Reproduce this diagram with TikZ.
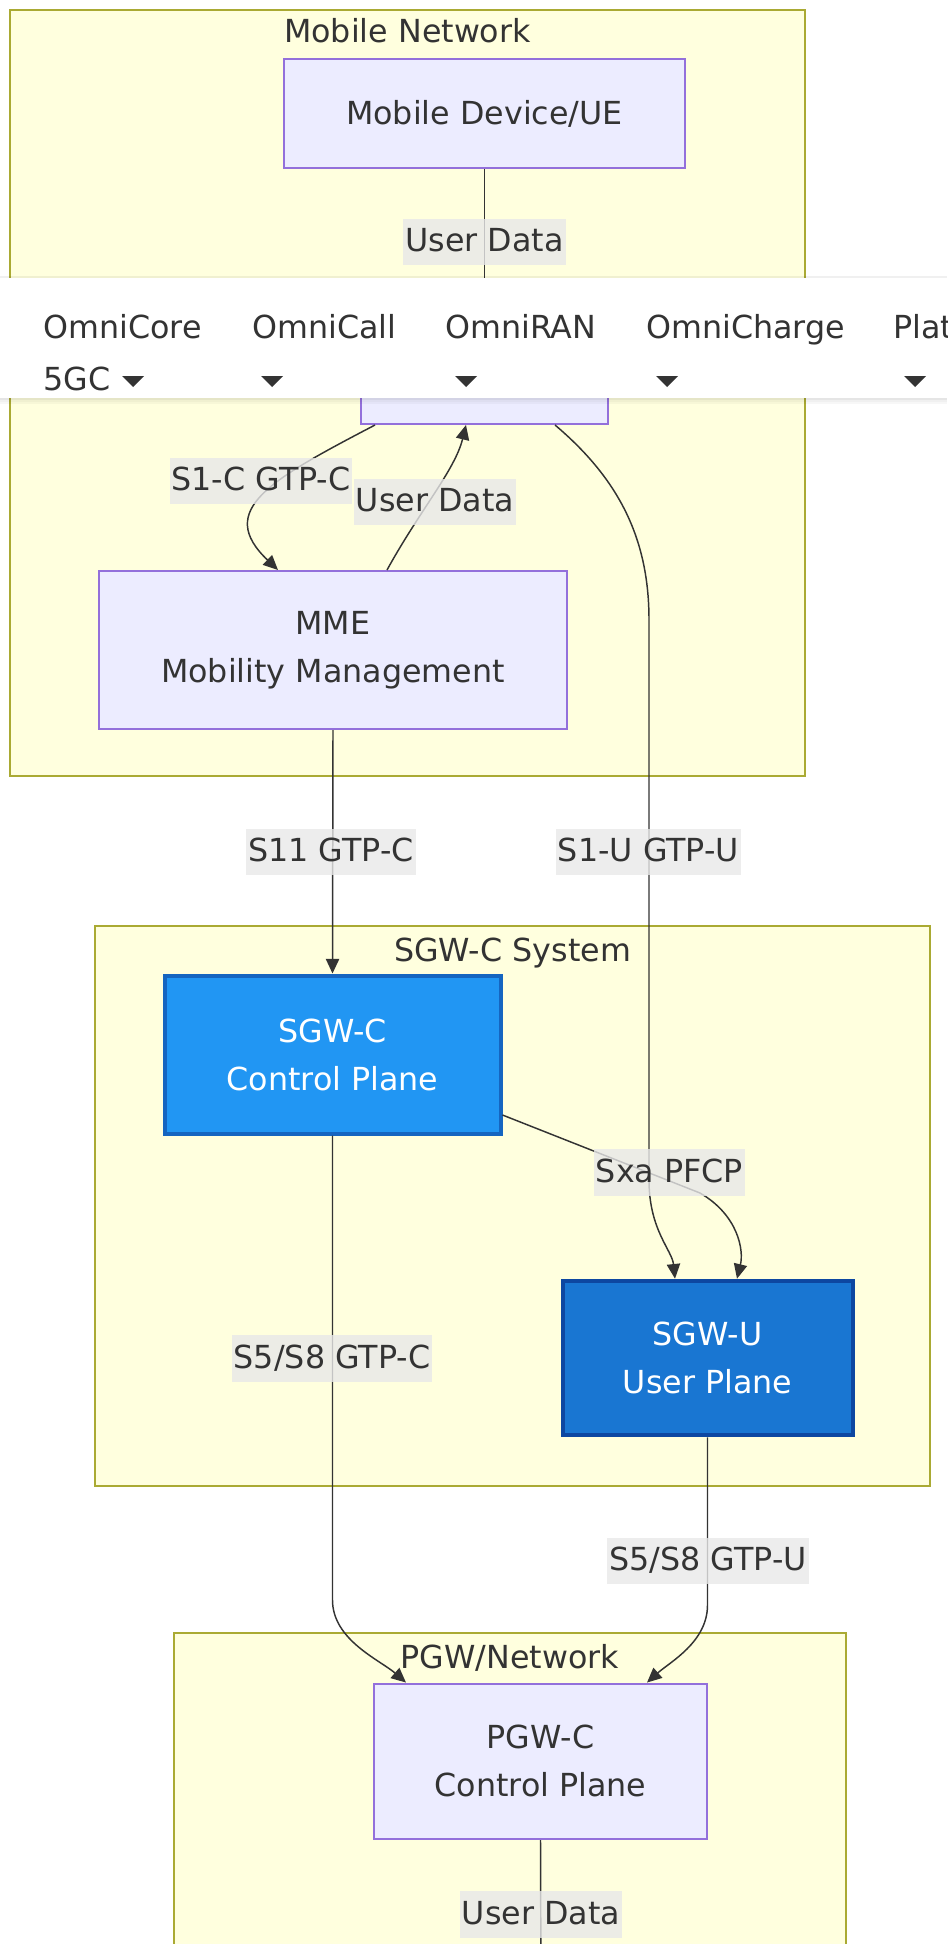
\documentclass[tikz,border=0pt]{standalone}
\usepackage{fontspec}
\setmainfont{DejaVu Sans}
\usetikzlibrary{arrows.meta,calc}
\definecolor{clfill}{HTML}{FFFFDE}
\definecolor{clline}{HTML}{AAAA33}
\definecolor{nfill}{HTML}{ECECFF}
\definecolor{nline}{HTML}{9370DB}
\definecolor{txt}{HTML}{333333}
\definecolor{lbl}{HTML}{E8E8E8}
\definecolor{cfill}{HTML}{2196F3}
\definecolor{cline}{HTML}{1565C0}
\definecolor{ufill}{HTML}{1976D2}
\definecolor{uline}{HTML}{0D47A1}
\begin{document}
\begin{tikzpicture}[x=0.75pt,y=-0.75pt,
  every node/.style={font=\fontsize{23.8}{36}\selectfont, text=txt},
  cluster/.style={fill=clfill, draw=clline, line width=1.5pt},
  ctitle/.style={anchor=base, inner sep=0pt},
  box/.style={draw=nline, fill=nfill, line width=1.5pt, inner sep=0pt, align=center},
  cbox/.style={draw=cline, fill=cfill, line width=3pt, inner sep=0pt, align=center, text=white},
  ubox/.style={draw=uline, fill=ufill, line width=3pt, inner sep=0pt, align=center, text=white},
  edge/.style={draw=txt, line width=1.1pt, -{Triangle[length=11pt,width=10pt]}},
  plainedge/.style={draw=txt, line width=1.1pt},
  elabel/.style={fill=lbl, fill opacity=0.8, text opacity=1, inner xsep=1.5pt, inner ysep=0pt,
    text height=16pt, text depth=1.5pt, minimum height=35pt},
  bartext/.style={anchor=base west, inner sep=0pt}
]
\useasboundingbox (0,0) rectangle (947,1944);
\clip (0,0) rectangle (947,1944);

% clusters
\draw[cluster] (10,10) rectangle (805,776);
\draw[cluster] (95,926) rectangle (930,1486);
\draw[cluster] (174,1633) rectangle (846,1990);
\node[ctitle] (tmob) at (407.5,43) {Mobile Network};
\node[ctitle] (tsgw) at (512.5,961) {SGW-C System};
\node[ctitle] (tpgw) at (510,1668) {PGW/Network};

% nodes
\node[box, minimum width=300.75pt, minimum height=81.75pt] (ue) at (484.5,113.5) {Mobile Device/UE};
\node[box, minimum width=185.25pt, minimum height=81.75pt] (enb) at (484.5,369.5) {};
\node[box, minimum width=351pt, minimum height=118.5pt] (mme) at (333,650) {MME\\Mobility Management};
\node[cbox, minimum width=252pt, minimum height=118.5pt] (sgwc) at (332.5,1054.5) {SGW-C\\Control Plane};
\node[ubox, minimum width=217.5pt, minimum height=116pt] (sgwu) at (707.5,1358) {SGW-U\\User Plane};
\node[box, minimum width=249.75pt, minimum height=116.6pt] (pgwc) at (540.5,1761.25) {PGW-C\\Control Plane};
\coordinate (pgwout) at (541,1990);

% edges
\draw[edge] (ue.south) -- (enb.north);
\draw[edge] ($(enb.south)+(-109.5,0)$) .. controls (270,480) and (215,510) .. ($(mme.north)+(-55,0)$);
\draw[edge] ($(mme.north)+(54,0)$) .. controls (420,510) and (455,470) .. ($(enb.south)+(-18.5,0)$);
\draw[edge] ($(enb.south)+(70.5,0)$) .. controls (620,480) and (649,540) .. (649,620) -- (649,1180) .. controls (649,1230) and (672,1250) .. ($(sgwu.north)+(-32.5,0)$);
\draw[edge] (mme.south) -- (sgwc.north);
\draw[edge] ($(sgwc.east)+(0,60.5)$) -- (700,1193) .. controls (738,1215) and (744,1250) .. ($(sgwu.north)+(29.5,0)$);
\draw[edge] (sgwc.south) -- (332.5,1600) .. controls (332.5,1640) and (380,1660) .. ($(pgwc.north)+(-134.5,0)$);
\draw[edge] (sgwu.south) -- (707.5,1605) .. controls (707.5,1642) and (670,1662) .. ($(pgwc.north)+(106.5,0)$);
\draw[plainedge] (pgwc.south) -- (pgwout);

% edge labels
\node[elabel] (l1) at (484.5,242) {User Data};
\node[elabel] (l2) at (261,481) {S1-C GTP-C};
\node[elabel] (l3) at (435,502) {User Data};
\node[elabel] (l4) at (331,852) {S11 GTP-C};
\node[elabel] (l5) at (648.5,852) {S1-U GTP-U};
\node[elabel] (l6) at (669.5,1172.5) {Sxa PFCP};
\node[elabel] (l7) at (332,1358.5) {S5/S8 GTP-C};
\node[elabel] (l8) at (708,1561) {S5/S8 GTP-U};
\node[elabel] (l9) at (541,1914.5) {User Data};

% overlay menu bar
\fill[black, opacity=0.06] (0,276) rectangle (947,278);
\fill[white] (0,278) rectangle (947,398);
\fill[black, opacity=0.10] (0,398) rectangle (947,400);
\fill[black, opacity=0.06] (0,400) rectangle (947,402);
\fill[black, opacity=0.03] (0,402) rectangle (947,404);
\node[bartext] (m1) at (43,338) {OmniCore};
\node[bartext] (m1b) at (43,390) {5GC};
\node[bartext] (m2) at (252,338) {OmniCall};
\node[bartext] (m3) at (445,338) {OmniRAN};
\node[bartext] (m4) at (646,338) {OmniCharge};
\node[bartext] (m5) at (893,338) {Plat};
\foreach \cx in {133,272,466,667,915}
  \fill[txt] (\cx-11,376) -- (\cx+11,376) -- (\cx,387) -- cycle;
\end{tikzpicture}
\end{document}
